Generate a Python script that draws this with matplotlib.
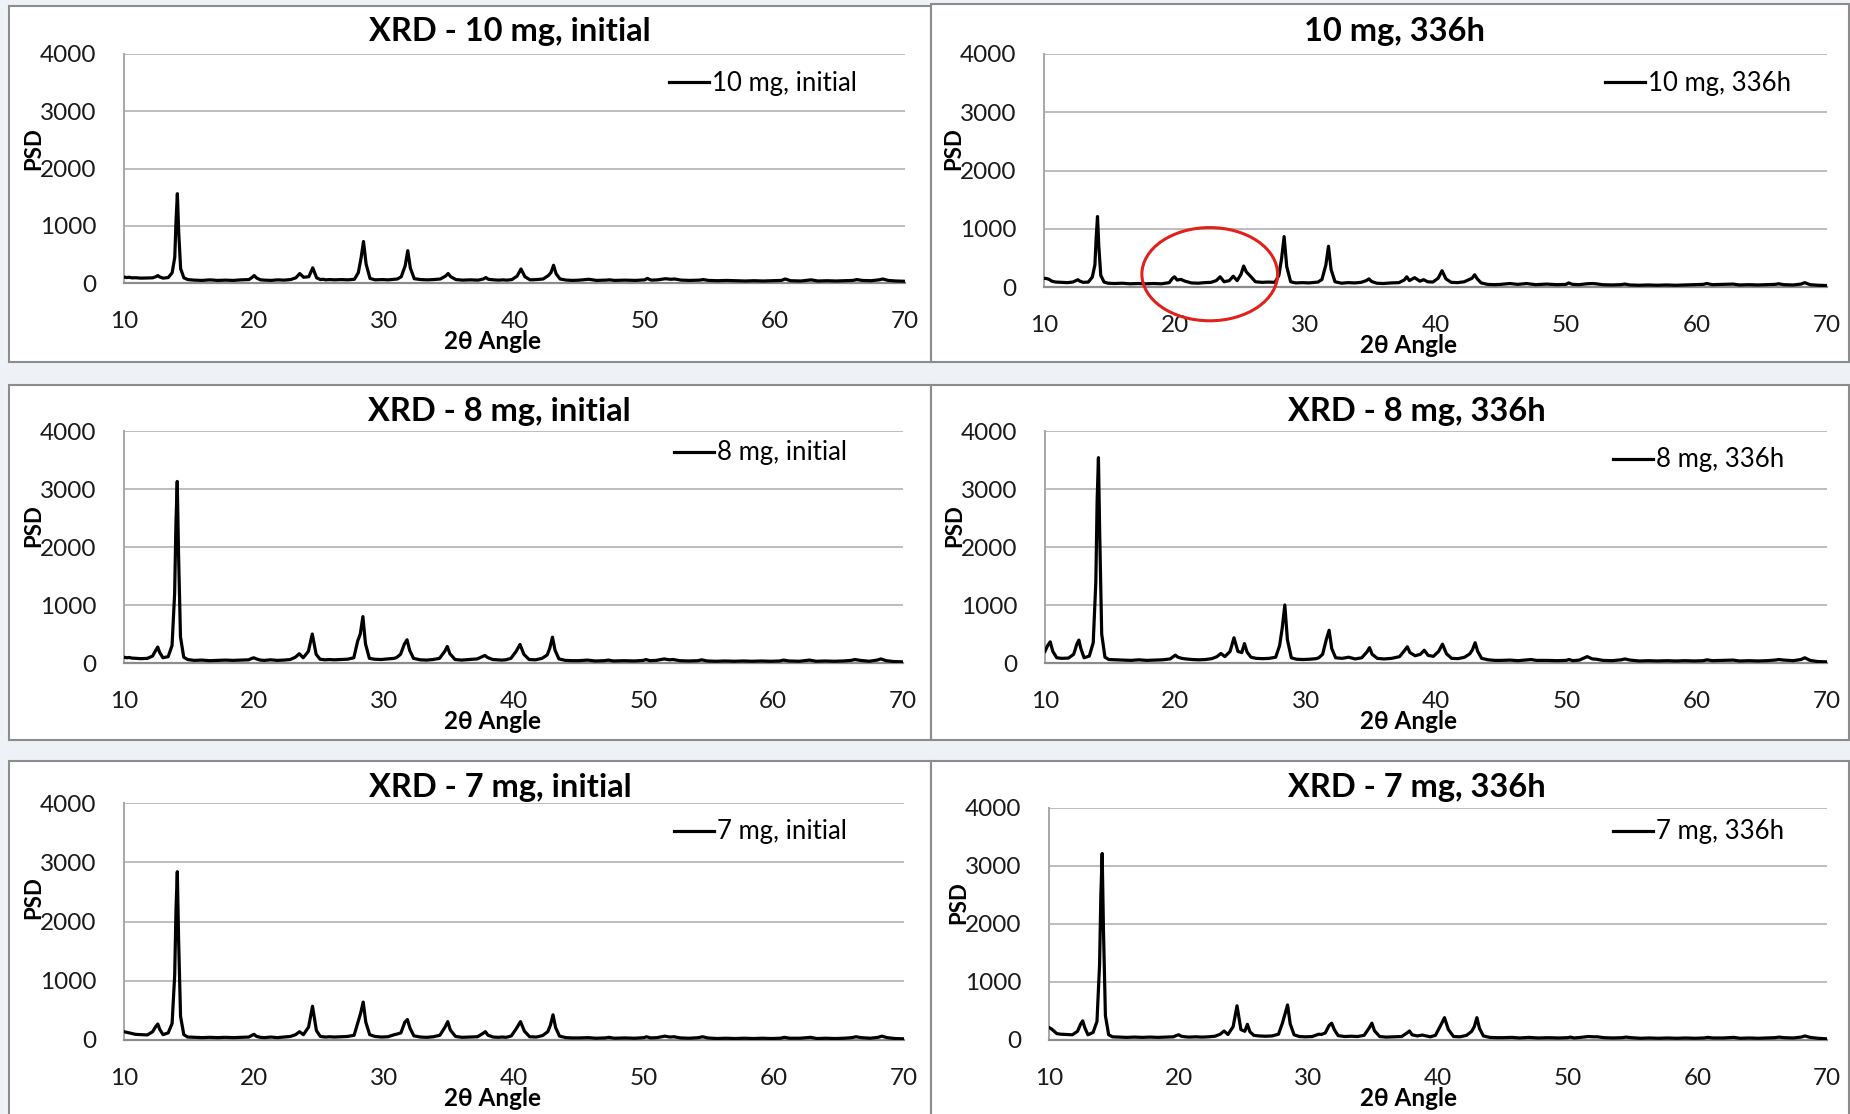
import numpy as np
import matplotlib.pyplot as plt
from matplotlib.patches import Rectangle, Ellipse

W, H = 1850, 1114
plt.rcParams['font.family'] = ['Lato', 'DejaVu Sans']

# 2-theta sampling (deg), shared by all six scans
two_theta = [
    10.0, 10.2, 10.4, 10.6, 10.9, 11.3, 11.8, 12.2, 12.45, 12.6, 12.75, 13.0, 13.4,
    13.7, 13.9, 14.0, 14.1, 14.2, 14.35, 14.6, 14.9,
    15.4, 16.0, 16.6, 17.2, 17.8, 18.4, 19.0, 19.6,
    19.85, 20.0, 20.2, 20.5, 20.8, 21.3, 21.8, 22.3, 22.8, 23.2,
    23.5, 23.8, 24.2, 24.5, 24.8, 25.1, 25.3, 25.5, 25.8, 26.2, 26.7, 27.2, 27.7,
    28.0, 28.2, 28.4, 28.6, 28.9, 29.3, 29.8, 30.3, 30.8, 31.0,
    31.3, 31.6, 31.8, 32.0, 32.3, 32.8, 33.3, 33.8, 34.3,
    34.7, 34.9, 35.1, 35.5, 36.0, 36.6, 37.2, 37.6, 37.8, 38.0,
    38.4, 38.8, 39.1, 39.4, 39.8, 40.2, 40.5, 40.8, 41.2, 41.7, 42.2,
    42.6, 42.8, 43.0, 43.2, 43.5, 44.0, 44.5, 45.0, 45.7, 46.3, 47.0, 47.3, 47.7,
    48.5, 49.3, 50.0, 50.2, 50.5, 51.0, 51.6, 52.0, 52.3, 52.8, 53.5, 54.2, 54.5, 54.9, 55.6, 56.3,
    57.0, 57.7, 58.4, 59.1, 59.8, 60.5, 60.8, 61.2, 62.0, 62.8, 63.3, 64.0, 64.7, 65.4, 66.0, 66.3,
    66.7, 67.4, 68.0, 68.3, 68.7, 69.3, 70.0,
]

psd_10mg_initial = [
    105, 95, 100, 90, 92, 85, 88, 90, 110, 130, 105, 85, 95,
    180, 450, 1100, 1560, 900, 250, 90, 60,
    50, 45, 55, 45, 50, 45, 55, 60,
    100, 130, 85, 55, 50, 45, 55, 50, 60, 90,
    165, 100, 110, 265, 90, 60, 65, 55, 60, 55, 60, 55, 65,
    180, 420, 725, 330, 80, 55, 60, 55, 65, 70,
    110, 300, 565, 260, 75, 60, 55, 60, 70,
    120, 165, 110, 60, 50, 55, 50, 70, 95, 65,
    55, 50, 55, 50, 60, 120, 245, 110, 55, 60, 70,
    130, 180, 310, 160, 70, 50, 45, 50, 65, 45, 50, 55, 45,
    50, 45, 55, 80, 50, 55, 75, 65, 70, 50, 45, 50, 60, 45, 40, 45,
    40, 35, 40, 35, 40, 45, 70, 40, 35, 55, 35, 40, 35, 40, 45, 60,
    45, 40, 55, 70, 45, 35, 30,
]

psd_10mg_336h = [
    150, 145, 130, 100, 85, 80, 75, 85, 110, 125, 100, 80, 85,
    170, 380, 850, 1210, 700, 200, 85, 65,
    60, 65, 55, 60, 55, 60, 55, 75,
    150, 175, 120, 130, 100, 70, 65, 75, 80, 110,
    175, 90, 110, 185, 110, 220, 360, 260, 190, 90, 80, 85, 80,
    200, 480, 865, 350, 90, 70, 75, 70, 80, 85,
    130, 380, 700, 300, 90, 65, 75, 70, 80,
    110, 140, 95, 65, 60, 70, 75, 120, 175, 110,
    160, 100, 125, 90, 85, 150, 280, 140, 80, 75, 90,
    130, 150, 210, 140, 70, 45, 40, 45, 60, 45, 60, 50, 40,
    50, 40, 45, 70, 45, 40, 55, 60, 55, 40, 35, 40, 50, 35, 30, 35,
    30, 35, 30, 35, 40, 45, 60, 40, 45, 50, 35, 40, 35, 40, 45, 55,
    40, 35, 50, 75, 40, 30, 25,
]

psd_8mg_initial = [
    100, 90, 95, 85, 80, 75, 80, 120, 220, 275, 180, 90, 110,
    300, 1200, 2400, 3130, 1900, 450, 100, 60,
    45, 50, 40, 45, 50, 45, 50, 55,
    80, 90, 70, 50, 45, 55, 45, 50, 60, 100,
    160, 90, 200, 500, 150, 65, 60, 55, 60, 55, 60, 65, 90,
    380, 500, 800, 330, 80, 65, 60, 70, 80, 95,
    150, 330, 400, 220, 80, 55, 50, 60, 80,
    200, 285, 160, 60, 50, 60, 70, 110, 130, 95,
    60, 55, 50, 55, 80, 200, 320, 150, 60, 55, 80,
    140, 260, 445, 220, 70, 45, 40, 40, 50, 35, 40, 50, 35,
    40, 35, 45, 60, 40, 45, 70, 55, 60, 40, 35, 40, 55, 35, 30, 35,
    30, 35, 30, 35, 30, 35, 50, 35, 30, 50, 30, 35, 30, 35, 45, 60,
    45, 30, 50, 70, 40, 25, 20,
]

psd_8mg_336h = [
    200, 300, 365, 200, 90, 80, 85, 150, 330, 395, 250, 90, 120,
    350, 1400, 2800, 3540, 2200, 500, 100, 60,
    55, 50, 45, 55, 45, 50, 55, 70,
    110, 135, 100, 80, 70, 60, 55, 60, 75, 110,
    165, 110, 200, 435, 200, 180, 335, 190, 100, 80, 75, 80, 100,
    300, 600, 1000, 400, 90, 65, 60, 65, 75, 90,
    150, 420, 565, 250, 90, 80, 100, 70, 90,
    190, 265, 150, 80, 70, 80, 110, 220, 280, 180,
    125, 150, 220, 130, 115, 200, 325, 160, 80, 75, 100,
    160, 230, 350, 200, 80, 55, 45, 45, 50, 40, 55, 60, 45,
    45, 40, 45, 60, 40, 50, 110, 70, 65, 45, 40, 55, 70, 50, 35, 40,
    35, 40, 35, 40, 35, 40, 55, 40, 45, 50, 35, 40, 35, 40, 50, 60,
    50, 40, 60, 90, 45, 25, 20,
]

psd_7mg_initial = [
    140, 130, 120, 110, 95, 90, 85, 140, 230, 270, 180, 90, 120,
    280, 1100, 2200, 2840, 1700, 400, 90, 50,
    45, 40, 45, 40, 45, 40, 45, 50,
    80, 95, 60, 45, 40, 50, 40, 50, 60, 90,
    140, 90, 220, 570, 160, 60, 55, 50, 55, 50, 55, 60, 80,
    300, 450, 640, 300, 90, 60, 50, 55, 90, 100,
    120, 300, 345, 200, 70, 50, 45, 55, 80,
    220, 310, 170, 60, 45, 50, 55, 110, 140, 80,
    50, 45, 50, 45, 70, 200, 310, 150, 55, 50, 75,
    140, 250, 425, 210, 65, 40, 35, 35, 40, 30, 35, 45, 30,
    35, 30, 40, 55, 35, 40, 65, 50, 55, 35, 30, 40, 55, 35, 25, 30,
    25, 30, 25, 30, 25, 30, 45, 30, 30, 45, 25, 30, 25, 30, 40, 55,
    40, 30, 45, 65, 40, 25, 20,
]

psd_7mg_336h = [
    215, 190, 150, 110, 100, 95, 90, 150, 280, 330, 220, 90, 130,
    320, 1300, 2500, 3215, 1900, 420, 90, 55,
    50, 45, 50, 45, 50, 45, 50, 55,
    80, 90, 65, 55, 50, 55, 50, 55, 65, 100,
    155, 95, 230, 590, 180, 150, 270, 140, 80, 70, 65, 70, 100,
    290, 450, 605, 280, 90, 60, 55, 60, 100, 95,
    120, 250, 290, 180, 75, 60, 65, 60, 80,
    210, 290, 160, 60, 50, 55, 60, 120, 155, 90,
    70, 85, 70, 55, 80, 250, 385, 180, 60, 55, 80,
    150, 230, 385, 200, 70, 45, 40, 40, 45, 35, 45, 40, 35,
    40, 35, 40, 50, 35, 45, 60, 55, 55, 40, 35, 40, 50, 40, 30, 35,
    30, 35, 30, 35, 30, 35, 45, 35, 35, 45, 30, 35, 30, 35, 40, 50,
    40, 35, 50, 70, 45, 30, 20,
]

titles = ['XRD - 10 mg, initial', '10 mg, 336h',
          'XRD - 8 mg, initial', 'XRD - 8 mg, 336h',
          'XRD - 7 mg, initial', 'XRD - 7 mg, 336h']
series_names = ['10 mg, initial', '10 mg, 336h',
                '8 mg, initial', '8 mg, 336h',
                '7 mg, initial', '7 mg, 336h']
series = [psd_10mg_initial, psd_10mg_336h, psd_8mg_initial,
          psd_8mg_336h, psd_7mg_initial, psd_7mg_336h]
yticks = [0, 1000, 2000, 3000, 4000]
xticks = [10, 20, 30, 40, 50, 60, 70]

# pixel layout: frame box, plot box, title centre, legend line start
layout = [
    ((9, 6, 931, 362), (124, 54, 905, 283), (510, 32), (669, 83)),
    ((931, 4, 1849, 362), (1044, 54, 1827, 287), (1394, 32), (1605, 83)),
    ((9, 385, 931, 740), (124, 431, 903, 663), (499, 411), (674, 453)),
    ((931, 385, 1849, 740), (1045, 431, 1827, 663), (1417, 411), (1613, 460)),
    ((9, 761, 931, 1120), (124, 803, 904, 1040), (500, 788), (674, 832)),
    ((931, 761, 1849, 1120), (1049, 808, 1827, 1040), (1417, 788), (1613, 832)),
]

# highlighted region on the 10 mg, 336h scan
mark_center = (22.7, 220)
mark_size = (10.4, 1600)


def frac(x0, y0, x1, y1):
    return [x0 / W, 1 - y1 / H, (x1 - x0) / W, (y1 - y0) / H]


fig = plt.figure(figsize=(W / 100, H / 100), dpi=100, facecolor='#eef1f6')
x = np.array(two_theta)

for i, (frame, box, tpos, lpos) in enumerate(layout):
    y = np.array(series[i])
    assert len(y) == len(x)
    fx0, fy0, fx1, fy1 = frame
    fig.patches.append(Rectangle((fx0 / W, 1 - fy1 / H), (fx1 - fx0) / W, (fy1 - fy0) / H,
                                 transform=fig.transFigure, facecolor='white',
                                 edgecolor='#8c8c8c', linewidth=1.5, zorder=-5))
    ax = fig.add_axes(frac(*box))
    ax.set_facecolor('none')
    ax.plot(x, y, color='black', lw=2.3, label=series_names[i], zorder=3)
    ax.set_xlim(10, 70)
    ax.set_ylim(0, 4000)
    ax.set_xticks(xticks)
    ax.set_yticks(yticks)
    ax.grid(axis='y', color='#bdbdbd', lw=1.4)
    ax.set_axisbelow(True)
    for s in ['top', 'right']:
        ax.spines[s].set_visible(False)
    ax.spines['left'].set_color('#a6a6a6')
    ax.spines['bottom'].set_color('#8c8c8c')
    ax.spines['left'].set_linewidth(1.4)
    ax.spines['bottom'].set_linewidth(1.6)
    ax.tick_params(length=0, labelsize=17.5, colors='#1a1a1a')
    ax.tick_params(axis='x', pad=20)
    ax.tick_params(axis='y', pad=20)

    bw = box[2] - box[0]
    bh = box[3] - box[1]
    ax.set_ylabel('PSD', fontsize=16, fontweight='bold', labelpad=0)
    ax.yaxis.set_label_coords(-80 / bw, (box[3] - (box[1] + 95)) / bh)
    ax.set_xlabel('2θ Angle', fontsize=17.5, fontweight='bold')
    ax.xaxis.set_label_coords((493 - 124) / 781 if i % 2 == 0 else (1409 - box[0]) / bw, -47 / bh)

    fig.text(tpos[0] / W, 1 - tpos[1] / H, titles[i], ha='center', va='center',
             fontsize=23.5, fontweight='bold')
    ax.legend(loc='center left', bbox_to_anchor=(lpos[0] / W, 1 - lpos[1] / H),
              bbox_transform=fig.transFigure, frameon=False, fontsize=18.5,
              handlelength=1.55, handletextpad=0.12, borderpad=0, borderaxespad=0)

    if i == 1:
        ax.add_patch(Ellipse(mark_center, mark_size[0], mark_size[1], fill=False,
                             edgecolor='#e3201b', lw=2.2, clip_on=False, zorder=4))

fig.savefig('out.png', dpi=100, facecolor=fig.get_facecolor())
